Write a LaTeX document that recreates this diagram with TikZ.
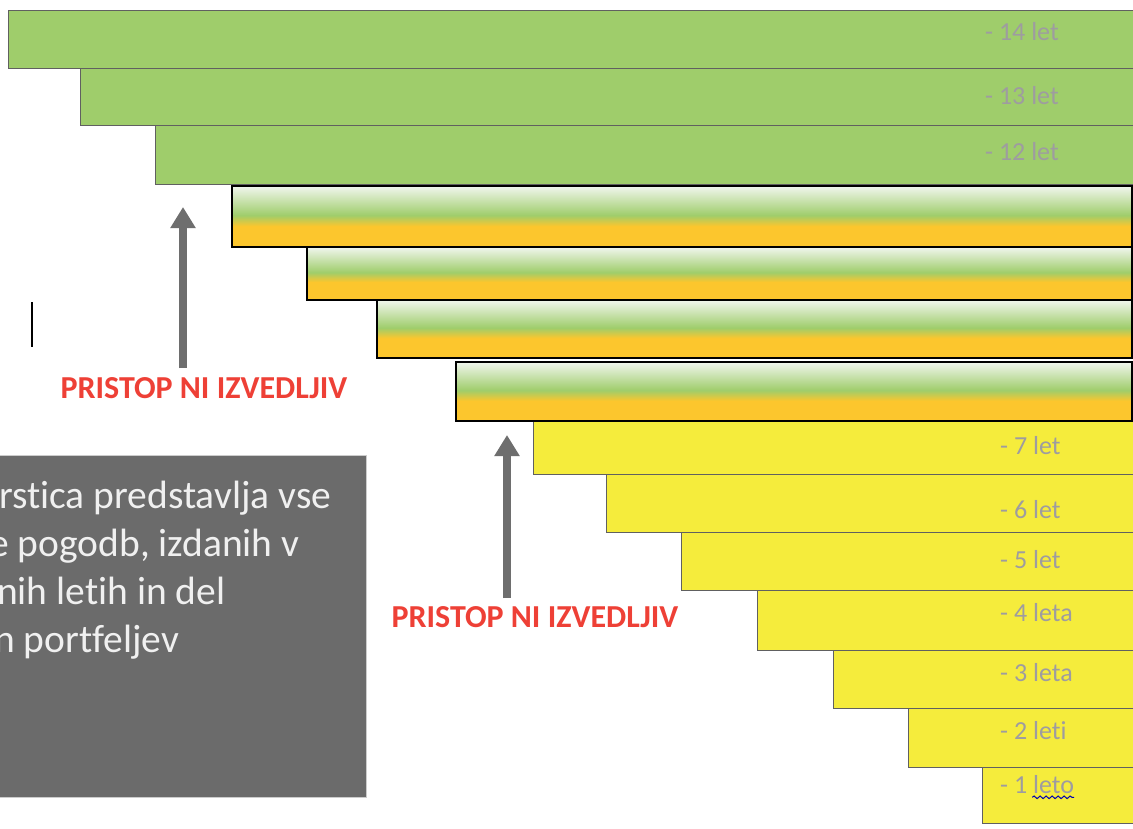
\documentclass[tikz,border=0pt]{standalone}
\usepackage{fontspec}
\setmainfont{Carlito}[Ligatures={NoCommon}]
\usetikzlibrary{arrows.meta,decorations.pathmorphing}
\definecolor{greenx}{HTML}{9FCD6B}
\definecolor{yellowx}{HTML}{F5EC3C}
\definecolor{orangex}{HTML}{FCC62D}
\definecolor{palex}{HTML}{F1F6EE}
\definecolor{redx}{HTML}{EE4036}
\definecolor{labelgray}{HTML}{9E9CA0}
\definecolor{arrowgray}{HTML}{6E6E6E}
\definecolor{boxgray}{HTML}{6B6B6B}
\pgfdeclareverticalshading{barshade}{100bp}{color(0bp)=(orangex); color(25bp)=(orangex); color(42bp)=(orangex); color(47bp)=(greenx!55!orangex); color(51bp)=(greenx); color(75bp)=(palex); color(100bp)=(palex)}
\tikzset{
  bar/.style={draw=gray!75!black,line width=0.8pt},
  midbar/.style={draw=black,line width=2.2pt,shading=barshade},
  yrs/.style={font=\fontsize{26}{26}\selectfont,text=labelgray,anchor=west,inner sep=0pt},
  warn/.style={font=\bfseries\fontsize{32}{32}\selectfont,text=redx,inner sep=0pt},
  up/.style={-{Triangle[length=21pt,width=24pt]},line width=8pt,arrowgray},
  boxtext/.style={font=\fontsize{39.5}{48}\selectfont,text=gray!12,anchor=base west,inner sep=0pt}
}

\begin{document}
\begin{tikzpicture}[x=1pt,y=-1pt]
\useasboundingbox (0,0) rectangle (1133,828);
\clip (0,0) rectangle (1133,828);
\fill[white] (0,0) rectangle (1133,828);
% green rows
\foreach \x/\ya/\yb/\t/\yl [count=\i] in {8/10/68/14/32, 80/68/125/13/96, 155/125/184/12/152}
 {\draw[bar,fill=greenx] (\x,\ya) rectangle (1140,\yb);
  \node[yrs] (g\i) at (985,\yl) {- \t{} let};}
% yellow rows
\foreach \x/\ya/\yb/\t/\yl [count=\i] in {533/421/474/7 let/446, 606/474/532/6 let/510, 681/532/590/5 let/560,
  757/590/650/4 leta/613, 833/650/708/3 leta/673, 908/708/767/2 leti/731, 982/767/823/1 leto/785}
 {\draw[bar,fill=yellowx] (\x,\ya) rectangle (1140,\yb);
  \node[yrs] (y\i) at (1000,\yl) {- \t};}
\draw[blue!70!black,line width=1pt,decorate,decoration={snake,amplitude=1.3pt,segment length=6pt}]
  ([xshift=-42pt,yshift=-3pt]y7.south east) -- ([yshift=-3pt]y7.south east);
% shaded rows
\foreach \x/\ya/\yb in {232/186/247, 307/247/300, 377/300/358, 456/362/421}
  \shade[midbar] (\x,\ya) rectangle (1132,\yb);
% warnings
\node[warn] (warnA) at (204,388) {PRISTOP NI IZVEDLJIV};
\node[warn] (warnB) at (535,617) {PRISTOP NI IZVEDLJIV};
\coordinate (tailA) at (183,368);
\coordinate (tipA) at (183,207);
\coordinate (tailB) at (507,598);
\coordinate (tipB) at (507,435);
\draw[up] (tailA) -- (tipA);
\draw[up] (tailB) -- (tipB);
% cursor
\draw[line width=1.8pt] (32,302) -- (32,347);
% note box
\draw[fill=boxgray,draw=gray!40,line width=0.8pt] (-10,455) rectangle (366,797);
\node[boxtext] (n1) at (-1,508) {rstica predstavlja vse};
\node[boxtext] (n2) at (-11,556) {e pogodb, izdanih v};
\node[boxtext] (n3) at (-3,604) {nih letih in del};
\node[boxtext] (n4) at (-6,652) {n portfeljev};
\end{tikzpicture}
\end{document}
